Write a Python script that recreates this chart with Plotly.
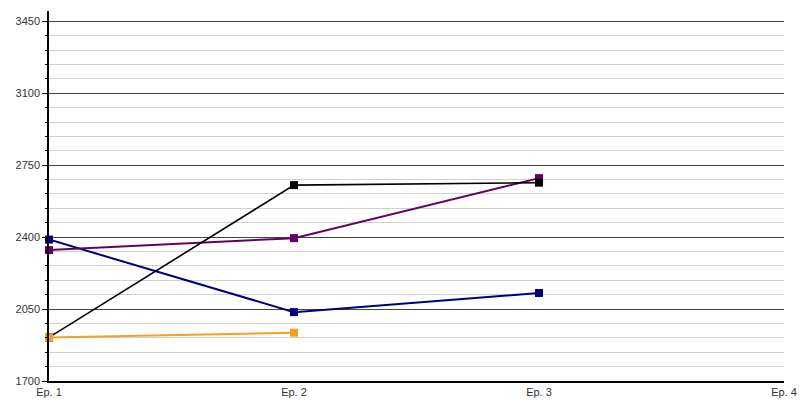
import plotly.graph_objects as go

episodes = ["Ep. 1", "Ep. 2", "Ep. 3", "Ep. 4"]
blue_vals = [2388, 2035, 2128]
purple_vals = [2337, 2395, 2687]
black_vals = [1912, 2653, 2665]
orange_vals = [1912, 1935]
y_ticks = [1700, 2050, 2400, 2750, 3100, 3450]

series = [
    (blue_vals, "#00007f", 2),
    (purple_vals, "#660066", 2),
    (black_vals, "#000000", 1.6),
    (orange_vals, "#f5a023", 2),
]

fig = go.Figure()
for vals, color, w in series:
    fig.add_trace(go.Scatter(
        x=list(range(len(vals))), y=vals, mode="lines+markers",
        line=dict(color=color, width=w),
        marker=dict(symbol="square", size=8, color=color),
        showlegend=False, cliponaxis=False,
    ))

fig.update_layout(
    width=800, height=400,
    margin=dict(l=49, r=16, t=11, b=19, autoexpand=False),
    paper_bgcolor="white", plot_bgcolor="white",
    font=dict(family="Liberation Sans, Arial, sans-serif", size=11, color="#333"),
)
fig.update_xaxes(
    range=[0, 3], tickmode="array", tickvals=list(range(len(episodes))), ticktext=episodes,
    showgrid=False, zeroline=False, showline=True, linecolor="black", linewidth=1.5,
    ticks="", automargin=False,
)
fig.update_yaxes(
    range=[1700, 3500], tickmode="array", tickvals=y_ticks,
    showgrid=True, gridcolor="#444", gridwidth=1,
    zeroline=False, showline=True, linecolor="black", linewidth=1.5,
    ticks="outside", ticklen=5, tickcolor="black", automargin=False,
    minor=dict(dtick=70, tick0=1700, showgrid=True, gridcolor="#d0d0d0", gridwidth=1,
               ticks="outside", ticklen=2, tickcolor="black"),
)
fig.write_html("out.html", config={"displayModeBar": False},
               post_script="document.body.style.margin='0';")
